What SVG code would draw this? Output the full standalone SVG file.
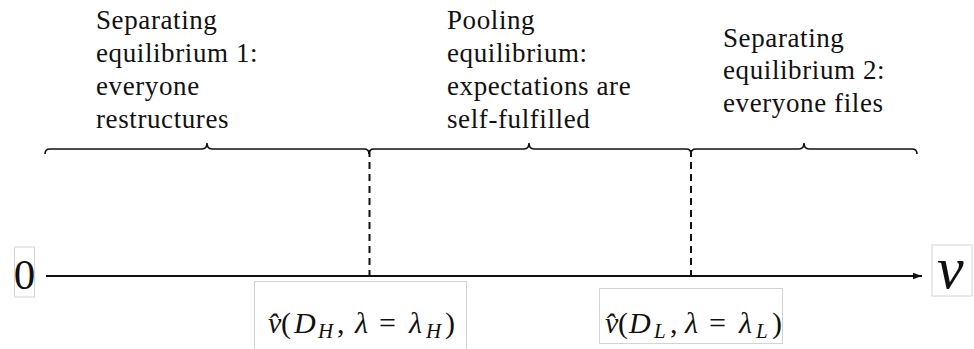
<svg xmlns="http://www.w3.org/2000/svg" width="974" height="349" viewBox="0 0 974 349">
<defs>
<style>
.f{font-family:'Liberation Serif',Tinos,'Noto Serif','DejaVu Serif',FreeSerif,'Times New Roman',Times,serif}
.t{font-size:27px;fill:#111;letter-spacing:0.6px}
.m{font-size:30px;fill:#111}
.mi{font-style:italic}
.sub{font-size:21px;font-style:italic;fill:#111}
.box{fill:#fff;stroke:#d4d4d4;stroke-width:1}
.br{fill:none;stroke:#111;stroke-width:1.6}
.dash{stroke:#111;stroke-width:2;stroke-dasharray:7,5}
.ax{stroke:#111;stroke-width:1.8}
</style>
<marker id="arr" markerWidth="10" markerHeight="8" refX="9" refY="4" orient="auto" markerUnits="userSpaceOnUse">
<path d="M0,0.8 L9,4 L0,7.2 Z" fill="#111"/>
</marker>
</defs>
<rect width="974" height="349" fill="#fff"/>

<g id="label-sep1" class="f">
<text class="t" x="96" y="29">Separating</text>
<text class="t" x="96" y="62">equilibrium 1:</text>
<text class="t" x="96" y="95">everyone</text>
<text class="t" x="96" y="128">restructures</text>
</g>
<g id="label-pool" class="f">
<text class="t" x="447" y="29">Pooling</text>
<text class="t" x="447" y="62">equilibrium:</text>
<text class="t" x="447" y="95">expectations are</text>
<text class="t" x="447" y="128">self-fulfilled</text>
</g>
<g id="label-sep2" class="f">
<text class="t" x="723" y="47">Separating</text>
<text class="t" x="723" y="79">equilibrium 2:</text>
<text class="t" x="723" y="112">everyone files</text>
</g>

<g id="connectors">
<path class="br" d="M45,154 Q45,149 50,149 H202 Q207,149 207,143 Q207,149 212,149 H364 Q369,149 369,154"/>
<path class="br" d="M369,154 Q369,149 374,149 H524 Q529,149 529,143 Q529,149 534,149 H686 Q691,149 691,154"/>
<path class="br" d="M691,154 Q691,149 696,149 H799 Q804,149 804,143 Q804,149 809,149 H912 Q917,149 917,154"/>
<line class="dash" x1="369.5" y1="150" x2="369.5" y2="276"/>
<line class="dash" x1="691" y1="150" x2="691" y2="276"/>
<line class="ax" x1="46" y1="276" x2="922" y2="276" marker-end="url(#arr)"/>
</g>

<g id="zero" class="f">
<rect class="box" x="14.5" y="247" width="20" height="50"/>
<text x="24.5" y="289" text-anchor="middle" font-size="43" fill="#111">0</text>
</g>

<g id="v-axis" class="f">
<rect class="box" x="932" y="245" width="40" height="51"/>
<text x="937" y="288" font-size="60" font-style="italic" fill="#111">v</text>
</g>

<g id="vhat-H" class="f">
<rect class="box" x="254.5" y="281.5" width="212" height="70"/>
<text class="m mi" x="268" y="333">v&#x302;</text>
<text class="m" x="281" y="333">(</text>
<text class="m mi" x="294" y="333">D</text>
<text class="sub" x="318" y="338">H</text>
<text class="m" x="337" y="333">,</text>
<text class="m mi" x="355" y="333">λ</text>
<text class="m" x="379" y="333">=</text>
<text class="m mi" x="409" y="333">λ</text>
<text class="sub" x="426" y="338">H</text>
<text class="m" x="445" y="333">)</text>
</g>

<g id="vhat-L" class="f">
<rect class="box" x="599.5" y="288.5" width="183" height="55"/>
<text class="m mi" x="605" y="333">v&#x302;</text>
<text class="m" x="618" y="333">(</text>
<text class="m mi" x="629" y="333">D</text>
<text class="sub" x="654" y="338">L</text>
<text class="m" x="670" y="333">,</text>
<text class="m mi" x="685" y="333">λ</text>
<text class="m" x="709" y="333">=</text>
<text class="m mi" x="739" y="333">λ</text>
<text class="sub" x="756" y="338">L</text>
<text class="m" x="772" y="333">)</text>
</g>
</svg>
